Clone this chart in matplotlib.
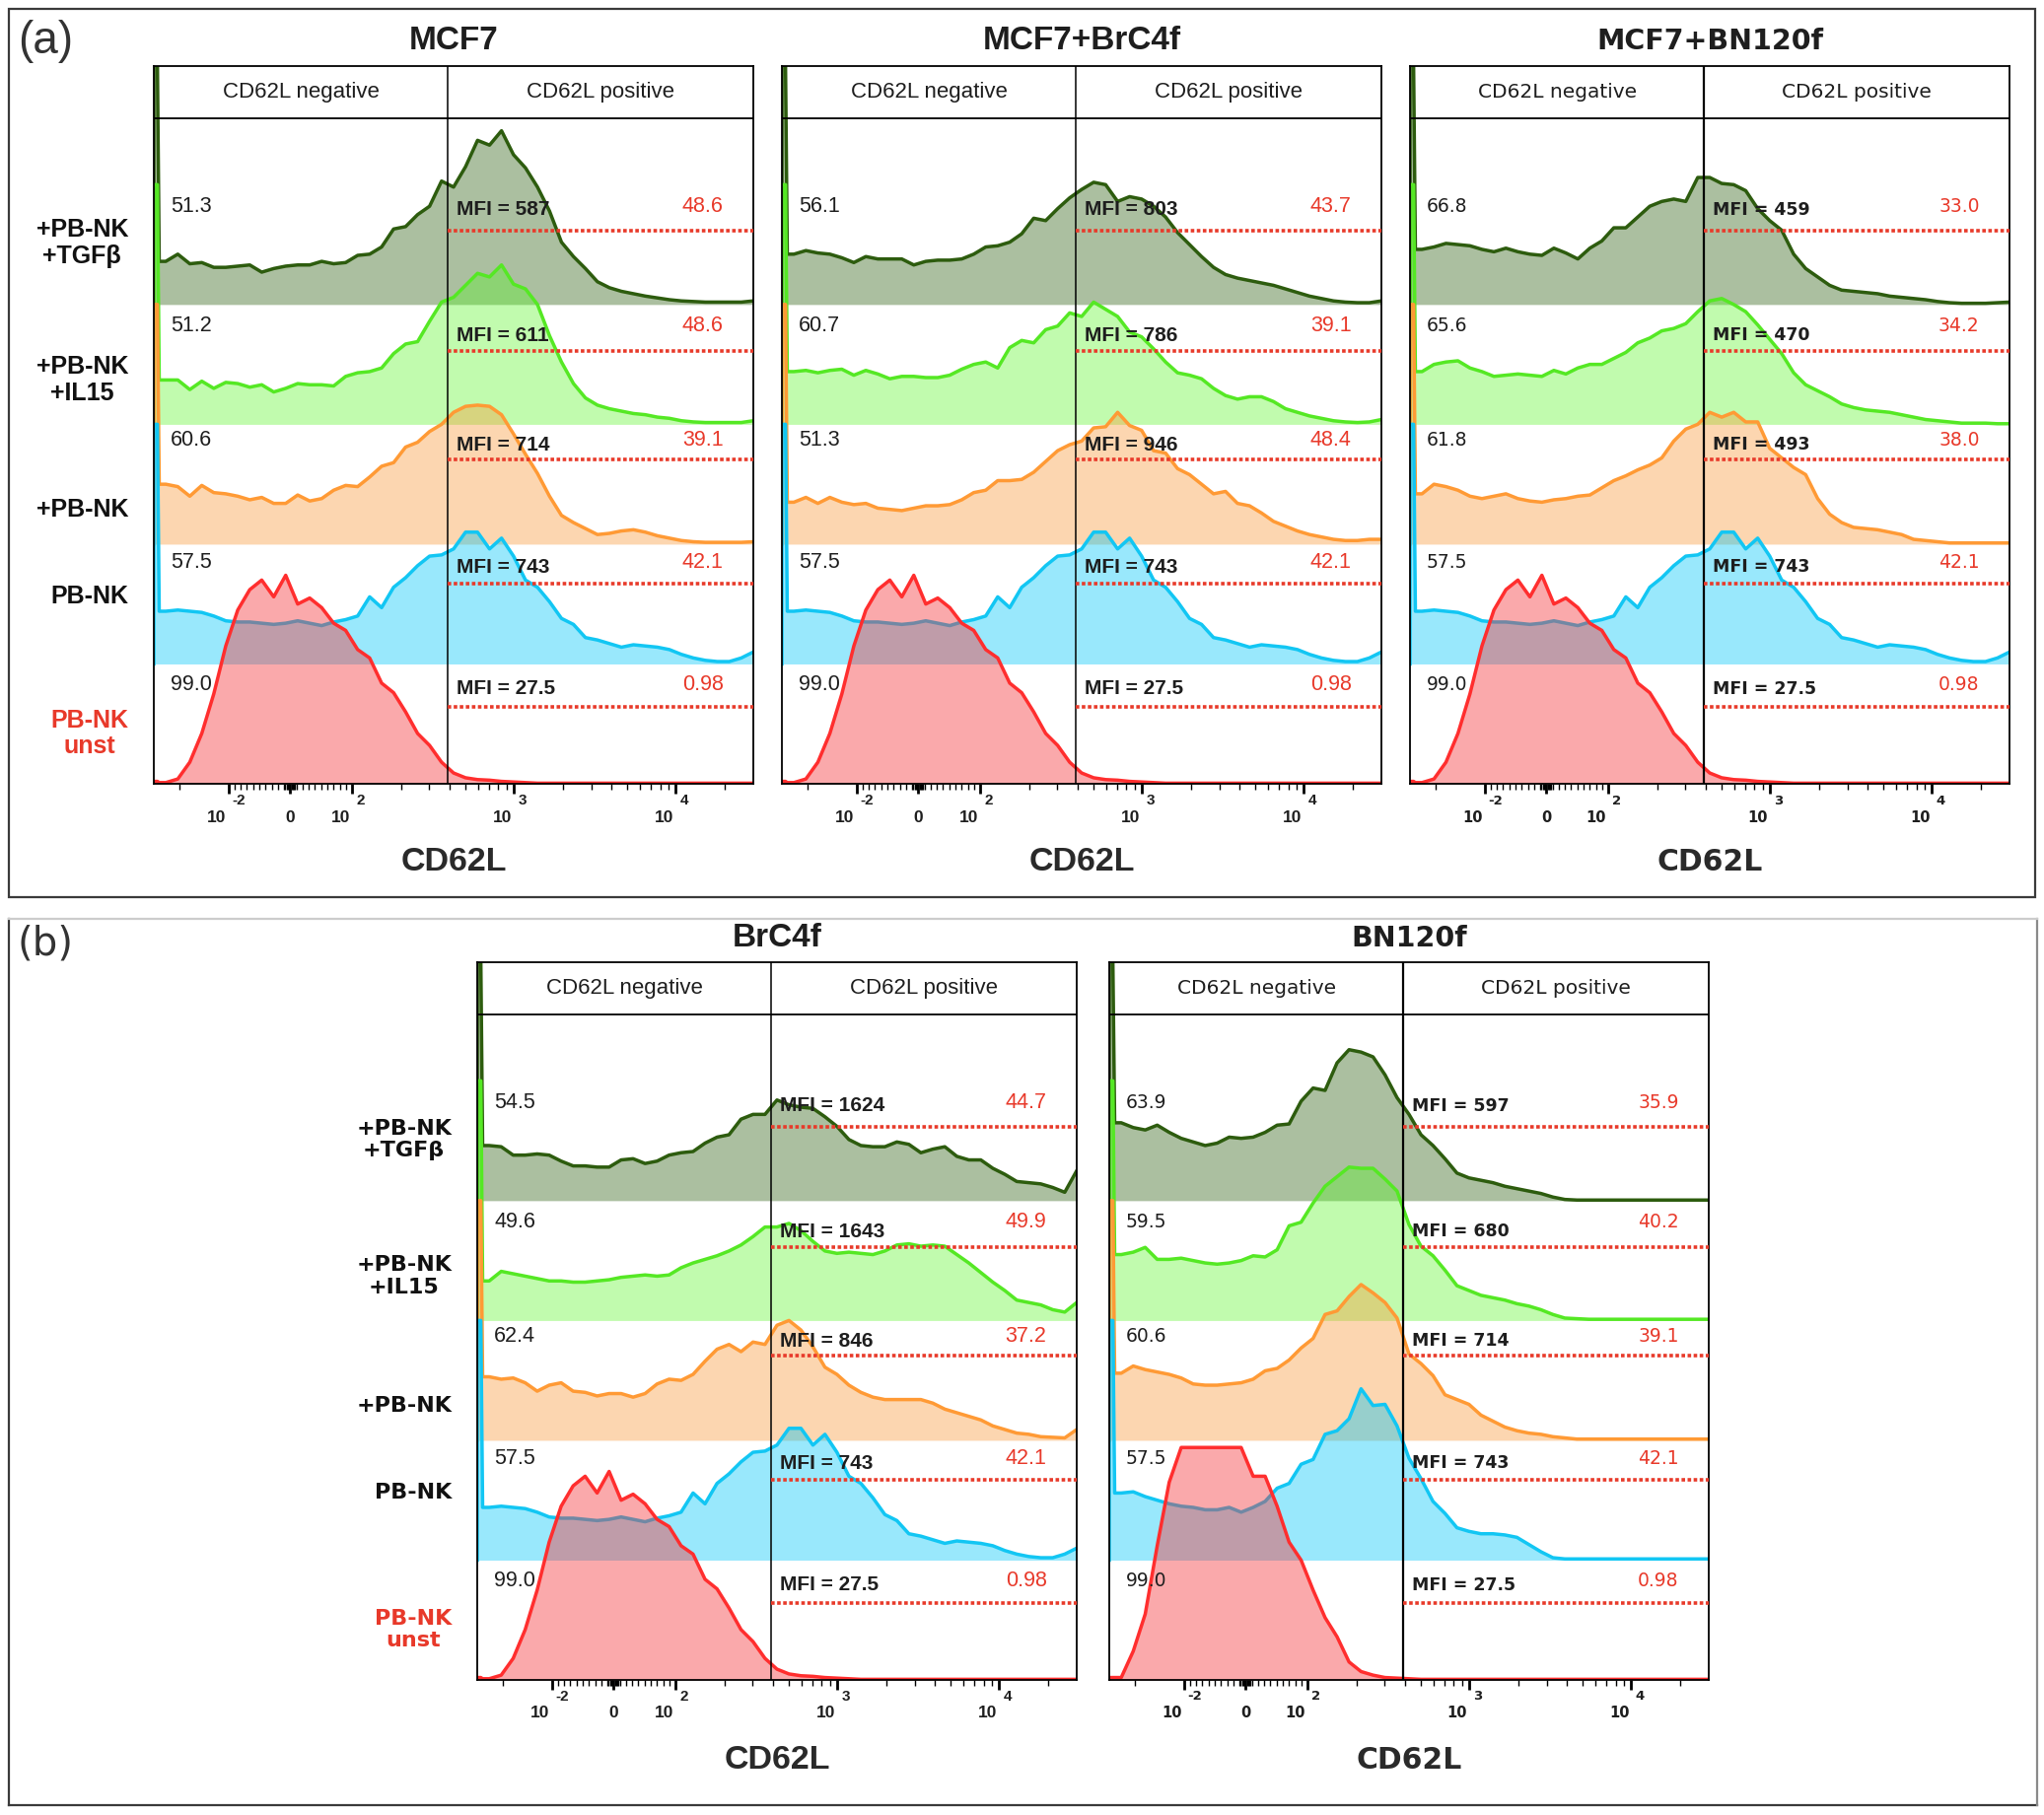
import numpy as np
import matplotlib
matplotlib.use("Agg")
import matplotlib.pyplot as plt
from matplotlib.transforms import blended_transform_factory, offset_copy
from matplotlib.patches import Rectangle
from matplotlib.lines import Line2D
from matplotlib.ticker import NullFormatter

# ---------------------------------------------------------------- data
# histogram heights (1 unit = spacing between stacked rows), sampled on a
# regular grid of 50 channels across the display axis (left to right)
ROW_LABELS = ["+PB-NK\n+TGFβ", "+PB-NK\n+IL15", "+PB-NK", "PB-NK", "PB-NK\nunst"]

MCF7_TGFB = [.36, .42, .34, .35, .31, .31, .32, .33, .27, .30,
             .32, .33, .33, .36, .34, .35, .41, .42, .48, .63,
             .65, .75, .82, 1.03, .98, 1.15, 1.37, 1.33, 1.45, 1.25,
             1.14, .98, .78, .52, .40, .30, .19, .14, .11, .09,
             .07, .055, .04, .03, .025, .02, .02, .02, .02, .03]
MCF7_IL15 = [.37, .37, .29, .36, .30, .35, .34, .31, .33, .27,
             .30, .34, .33, .33, .32, .40, .43, .44, .47, .59,
             .67, .69, .86, 1.02, 1.06, 1.16, 1.26, 1.23, 1.33, 1.17,
             1.13, 1.00, .74, .52, .34, .22, .16, .13, .11, .09,
             .08, .06, .05, .03, .02, .015, .015, .015, .015, .03]
MCF7_NK = [.50, .48, .40, .49, .43, .42, .40, .37, .39, .34,
           .34, .41, .36, .38, .45, .49, .48, .56, .65, .68,
           .81, .85, .94, 1.00, 1.10, 1.15, 1.16, 1.15, 1.08, .92,
           .75, .59, .40, .24, .18, .13, .08, .09, .11, .12,
           .10, .07, .05, .03, .02, .015, .015, .015, .015, .02]
PBNK = [.44, .45, .44, .43, .40, .36, .35, .35, .34, .33,
        .34, .36, .34, .32, .35, .37, .40, .56, .47, .64,
        .72, .82, .90, .91, .96, 1.10, 1.10, .96, 1.05, .90,
        .70, .64, .52, .38, .33, .22, .20, .17, .14, .16,
        .15, .14, .12, .08, .05, .03, .02, .02, .05, .10]
UNST = [.01, .04, .18, .42, .75, 1.15, 1.45, 1.62, 1.70, 1.56,
        1.74, 1.50, 1.55, 1.47, 1.34, 1.28, 1.12, 1.05, .84, .76,
        .60, .42, .32, .18, .09, .05, .035, .03, .02, .015,
        .01, .005, .005, .005, .005, .005, .005, .005, .005, .005,
        .005, .005, .005, .005, .005, .005, .005, .005, .005, .005]

MCF7_BRC_TGFB = [.42, .45, .43, .42, .39, .35, .40, .38, .38, .38,
                 .33, .36, .37, .37, .38, .42, .48, .49, .52, .59,
                 .72, .70, .80, .89, .96, 1.02, 1.00, .86, .90, .88,
                 .82, .73, .60, .50, .40, .31, .25, .22, .20, .18,
                 .16, .13, .10, .07, .05, .03, .02, .015, .015, .03]
MCF7_BRC_IL15 = [.44, .45, .43, .45, .46, .41, .45, .42, .38, .40,
                 .40, .39, .39, .41, .46, .50, .52, .47, .64, .70,
                 .68, .79, .82, .93, .90, 1.02, .96, .90, .77, .73,
                 .63, .52, .43, .41, .38, .30, .24, .21, .23, .23,
                 .19, .13, .10, .07, .05, .03, .02, .015, .02, .04]
MCF7_BRC_NK = [.35, .39, .34, .39, .35, .33, .34, .30, .29, .28,
               .30, .32, .32, .33, .37, .43, .45, .53, .53, .54,
               .60, .69, .78, .83, .86, .97, .98, 1.10, .99, .95,
               .78, .76, .63, .58, .50, .42, .44, .34, .32, .26,
               .19, .15, .11, .08, .06, .04, .03, .03, .04, .04]

MCF7_BN_TGFB = [.46, .48, .51, .50, .49, .46, .44, .47, .44, .42,
                .41, .47, .43, .38, .47, .53, .64, .64, .73, .82,
                .86, .88, .86, 1.06, 1.06, 1.01, 1.00, .95, .80, .70,
                .62, .42, .30, .23, .16, .12, .11, .10, .09, .07,
                .06, .05, .04, .025, .015, .01, .01, .01, .015, .02]
MCF7_BN_IL15 = [.44, .50, .52, .53, .47, .44, .40, .41, .42, .41,
                .40, .45, .42, .47, .50, .50, .55, .60, .68, .72,
                .78, .80, .84, .94, 1.03, 1.05, 1.00, .94, .83, .71,
                .59, .43, .33, .28, .23, .17, .14, .12, .11, .10,
                .08, .06, .04, .03, .02, .01, .01, .01, .005, .005]
MCF7_BN_NK = [.42, .50, .48, .45, .40, .38, .40, .42, .38, .36,
              .35, .37, .38, .40, .41, .47, .53, .57, .62, .66,
              .72, .86, .96, 1.00, 1.10, 1.06, 1.10, 1.02, 1.02, .80,
              .72, .64, .58, .38, .25, .18, .14, .13, .12, .10,
              .08, .04, .03, .02, .01, .01, .01, .01, .01, .01]

BRC_TGFB = [.46, .45, .38, .38, .39, .38, .33, .29, .29, .28,
            .28, .34, .35, .31, .33, .38, .40, .41, .48, .53,
            .55, .68, .72, .72, .84, .80, .78, .77, .70, .62,
            .51, .46, .45, .45, .49, .47, .40, .43, .45, .37,
            .34, .34, .27, .22, .16, .15, .14, .11, .07, .25]
BRC_IL15 = [.33, .41, .39, .37, .35, .33, .33, .32, .32, .33,
            .34, .36, .37, .38, .37, .38, .44, .48, .51, .54,
            .58, .63, .70, .78, .78, .81, .75, .66, .58, .56,
            .57, .56, .55, .58, .63, .64, .62, .63, .62, .55,
            .48, .40, .32, .25, .17, .15, .13, .09, .07, .15]
BRC_NK = [.53, .51, .52, .48, .41, .46, .48, .41, .40, .37,
          .39, .39, .36, .39, .47, .51, .50, .55, .66, .76,
          .80, .74, .82, .80, .96, 1.00, .92, .78, .61, .55,
          .46, .40, .36, .34, .34, .34, .34, .31, .26, .23,
          .20, .17, .12, .09, .06, .05, .03, .025, .02, .09]

BN_TGFB = [.65, .61, .59, .63, .57, .52, .49, .46, .48, .53,
           .52, .53, .57, .63, .64, .83, .94, .92, 1.15, 1.26,
           1.24, 1.20, 1.05, .86, .72, .55, .46, .35, .23, .19,
           .17, .15, .12, .10, .08, .06, .03, .01, .005, .005,
           .005, .005, .005, .005, .005, .005, .005, .005, .005, .005]
BN_IL15 = [.55, .57, .61, .51, .51, .52, .50, .48, .47, .48,
           .50, .54, .53, .59, .79, .82, .98, 1.12, 1.20, 1.28,
           1.27, 1.27, 1.18, 1.08, .80, .62, .54, .42, .29, .25,
           .21, .19, .17, .14, .12, .09, .05, .02, .015, .01,
           .01, .01, .01, .01, .01, .01, .01, .01, .01, .01]
BN_NK = [.56, .62, .59, .57, .55, .52, .47, .46, .46, .47,
         .48, .51, .58, .60, .67, .77, .85, 1.05, 1.08, 1.20,
         1.30, 1.23, 1.15, 1.02, .72, .64, .54, .38, .34, .30,
         .21, .16, .11, .08, .06, .05, .03, .02, .01, .01,
         .01, .01, .01, .01, .01, .01, .01, .01, .01, .01]
BN_PBNK = [.56, .57, .53, .50, .47, .45, .44, .42, .42, .44,
           .40, .44, .49, .60, .64, .80, .84, 1.05, 1.08, 1.18,
           1.43, 1.29, 1.30, 1.12, .85, .68, .49, .39, .27, .24,
           .22, .22, .21, .19, .13, .07, .02, .01, .01, .01,
           .01, .01, .01, .01, .01, .01, .01, .01, .01, .01]
BN_UNST = [.02, .24, .55, 1.12, 1.65, 1.94, 1.94, 1.94, 1.94, 1.94,
           1.94, 1.70, 1.70, 1.45, 1.15, 1.00, .75, .52, .36, .15,
           .07, .04, .02, .015, .01, .005, .005, .005, .005, .005,
           .005, .005, .005, .005, .005, .005, .005, .005, .005, .005,
           .005, .005, .005, .005, .005, .005, .005, .005, .005, .005]

# height of the pile-up in the first (off-scale) channel
SPIKE = [2.0, 2.0, 2.0, 2.0, 0.02]

# gate statistics (% negative, MFI, % positive)
MCF7_NEG = ["51.3", "51.2", "60.6", "57.5", "99.0"]
MCF7_MFI = ["587", "611", "714", "743", "27.5"]
MCF7_POS = ["48.6", "48.6", "39.1", "42.1", "0.98"]
MCF7_BRC_NEG = ["56.1", "60.7", "51.3", "57.5", "99.0"]
MCF7_BRC_MFI = ["803", "786", "946", "743", "27.5"]
MCF7_BRC_POS = ["43.7", "39.1", "48.4", "42.1", "0.98"]
MCF7_BN_NEG = ["66.8", "65.6", "61.8", "57.5", "99.0"]
MCF7_BN_MFI = ["459", "470", "493", "743", "27.5"]
MCF7_BN_POS = ["33.0", "34.2", "38.0", "42.1", "0.98"]
BRC_NEG = ["54.5", "49.6", "62.4", "57.5", "99.0"]
BRC_MFI = ["1624", "1643", "846", "743", "27.5"]
BRC_POS = ["44.7", "49.9", "37.2", "42.1", "0.98"]
BN_NEG = ["63.9", "59.5", "60.6", "57.5", "99.0"]
BN_MFI = ["597", "680", "714", "743", "27.5"]
BN_POS = ["35.9", "40.2", "39.1", "42.1", "0.98"]

MAJOR_TICKS = [-100, 0, 100, 1000, 10000]
MINOR_TICKS = ([-200] + list(range(-90, 0, 10)) + [-8, -6, -4, -2, 2, 4, 6, 8]
               + list(range(10, 100, 10)) + list(range(200, 1000, 100))
               + list(range(2000, 10000, 1000)) + [20000])
GATE = 390.0
XMIN, XMAX = -289.0, 30100.0
LINTHRESH, LINSCALE = 100.0, 0.344

# ---------------------------------------------------------------- style
W, H, DPI = 2073, 1841, 100
NARROW = "Liberation Sans"
WIDE = "DejaVu Sans"
TXT = "#1e1e1e"
RED_TXT = "#e8392a"
LINE_COLORS = ["#2d5c0e", "#55e824", "#ff9a35", "#12c6f3", "#ff2e2e"]
FILL_COLORS = ["#2f6012", "#5cf52a", "#f99a3a", "#00c6f8", "#f53338"]
FILL_ALPHA = [0.40, 0.38, 0.40, 0.40, 0.42]
ROW_BASE = [4, 3, 2, 1, 0]
NUM_DY = [0.82, 0.82, 0.87, 0.85, 0.83]
MFI_DY = [0.79, 0.74, 0.83, 0.81, 0.79]
DOT_DY = [0.62, 0.61, 0.71, 0.67, 0.64]
ROW_LABEL_Y = [4.51, 3.37, 2.29, 1.56, 0.42]
Y_TOP, HEADER_Y = 5.99, 5.55

SIZES = {
    NARROW: dict(title=24, header=16, num=15.5, mfi=15, xlabel=24.5, tick=12.5, exp=11),
    WIDE: dict(title=20.5, header=14.5, num=13.5, mfi=12.5, xlabel=21.5, tick=10.5, exp=9.5),
}

fig = plt.figure(figsize=(W / DPI, H / DPI), dpi=DPI)
fig.patch.set_facecolor("white")


def px_rect(x0, y0, w, h):
    return [x0 / W, 1 - (y0 + h) / H, w / W, h / H]


GRID_F = np.arange(1, 51) * 0.02


def make_panel(left_px, top_px, title, curves, neg, mfi, pos, fam, title_y, xlabel_y):
    sz = SIZES[fam]
    ax = fig.add_axes(px_rect(left_px, top_px, 608, 728))
    ax.set_xscale("symlog", linthresh=LINTHRESH, linscale=LINSCALE)
    ax.set_xlim(XMIN, XMAX)
    ax.set_ylim(0, Y_TOP)
    tr = ax.xaxis.get_transform()
    t0, t1 = tr.transform(np.array([XMIN, XMAX], float))

    def fx(f):
        return tr.inverted().transform(t0 + np.asarray(f, float) * (t1 - t0))

    gate_f = (tr.transform(np.array([GATE]))[0] - t0) / (t1 - t0)

    for i in range(5):
        base = ROW_BASE[i]
        v = np.asarray(curves[i], float)
        f = np.r_[0.0, 0.0, 0.006, 0.009, GRID_F]
        y = np.r_[0.0, SPIKE[i], SPIKE[i], v[0], v]
        xs = fx(f)
        z = 2 + 2 * i
        ax.fill_between(xs, base, base + y, color=FILL_COLORS[i],
                        alpha=FILL_ALPHA[i], lw=0, zorder=z)
        ax.plot(xs, base + y, color=LINE_COLORS[i], lw=2.5, zorder=z + 1,
                solid_joinstyle="round")

    wide = fam == WIDE
    ax.axvline(GATE, color="k", lw=1.6 if wide else 1.1, zorder=20)
    ax.axhline(HEADER_Y, color="k", lw=1.3, zorder=20)
    hy = (HEADER_Y + Y_TOP) / 2
    bt = blended_transform_factory(ax.transAxes, ax.transData)
    ax.text(gate_f / 2, hy, "CD62L negative", transform=bt, ha="center", va="center",
            fontsize=sz["header"], family=fam, color=TXT, zorder=30)
    ax.text((gate_f + 1) / 2, hy, "CD62L positive", transform=bt, ha="center", va="center",
            fontsize=sz["header"], family=fam, color=TXT, zorder=30)

    for i in range(5):
        base = ROW_BASE[i]
        ax.text(0.028, base + NUM_DY[i], neg[i], transform=bt, ha="left", va="center",
                fontsize=sz["num"], family=fam, color=TXT, zorder=30)
        ax.text(gate_f + 0.015, base + MFI_DY[i], "MFI = " + mfi[i], transform=bt,
                ha="left", va="center", fontsize=sz["mfi"], family=fam,
                fontweight="bold", color=TXT, zorder=30)
        ax.text(0.95, base + NUM_DY[i], pos[i], transform=bt, ha="right", va="center",
                fontsize=sz["num"], family=fam, color=RED_TXT, zorder=30)
        ax.plot([GATE, XMAX], [base + DOT_DY[i]] * 2, ls=(0, (1, 0.7)), lw=2.6,
                color="#e83a2a", zorder=25)

    # axes / ticks
    for s in ax.spines.values():
        s.set_linewidth(1.3)
        s.set_color("black")
        s.set_zorder(21)
    ax.set_yticks([])
    ax.set_xticks(MAJOR_TICKS)
    ax.set_xticklabels([""] * len(MAJOR_TICKS))
    ax.set_xticks(MINOR_TICKS, minor=True)
    ax.xaxis.set_minor_formatter(NullFormatter())
    ax.tick_params(axis="x", which="major", direction="out", length=7, width=2.0)
    ax.tick_params(axis="x", which="minor", direction="out", length=4, width=1.0)

    bx = blended_transform_factory(ax.transData, ax.transAxes)
    for v in MAJOR_TICKS:
        if v == 0:
            ax.text(0, 0, "0", transform=offset_copy(bx, fig=fig, x=0, y=-34, units="dots"),
                    ha="center", va="center", fontsize=sz["tick"], family=fam,
                    fontweight="bold", color=TXT)
            continue
        e = int(round(np.log10(abs(v))))
        exp = ("-" if v < 0 else "") + str(e)
        ax.text(v, 0, "10", transform=offset_copy(bx, fig=fig, x=-2, y=-34, units="dots"),
                ha="right", va="center", fontsize=sz["tick"], family=fam,
                fontweight="bold", color=TXT)
        ax.text(v, 0, exp, transform=offset_copy(bx, fig=fig, x=4, y=-17, units="dots"),
                ha="left", va="center", fontsize=sz["exp"], family=fam,
                fontweight="bold", color=TXT)

    cx = (left_px + 304) / W
    fig.text(cx, 1 - title_y / H, title, ha="center", va="center",
             fontsize=sz["title"], family=fam, fontweight="bold", color=TXT)
    fig.text(cx, 1 - xlabel_y / H, "CD62L", ha="center", va="center",
             fontsize=sz["xlabel"], family=fam, fontweight="bold", color="#2a2a2a")
    return ax


ax_a1 = make_panel(156, 67, "MCF7", [MCF7_TGFB, MCF7_IL15, MCF7_NK, PBNK, UNST],
                   MCF7_NEG, MCF7_MFI, MCF7_POS, NARROW, 42, 875)
make_panel(793, 67, "MCF7+BrC4f", [MCF7_BRC_TGFB, MCF7_BRC_IL15, MCF7_BRC_NK, PBNK, UNST],
           MCF7_BRC_NEG, MCF7_BRC_MFI, MCF7_BRC_POS, NARROW, 42, 875)
make_panel(1430, 67, "MCF7+BN120f", [MCF7_BN_TGFB, MCF7_BN_IL15, MCF7_BN_NK, PBNK, UNST],
           MCF7_BN_NEG, MCF7_BN_MFI, MCF7_BN_POS, WIDE, 42, 875)
ax_b1 = make_panel(484, 976, "BrC4f", [BRC_TGFB, BRC_IL15, BRC_NK, PBNK, UNST],
                   BRC_NEG, BRC_MFI, BRC_POS, NARROW, 952, 1786)
make_panel(1125, 976, "BN120f", [BN_TGFB, BN_IL15, BN_NK, BN_PBNK, BN_UNST],
           BN_NEG, BN_MFI, BN_POS, WIDE, 952, 1786)

# row labels
for ax, xr, fam, fs in [(ax_a1, 130, NARROW, 18), (ax_b1, 458, WIDE, 16)]:
    bt = blended_transform_factory(fig.transFigure, ax.transData)
    for i, lab in enumerate(ROW_LABELS):
        fig.text(xr / W, ROW_LABEL_Y[i], lab, transform=bt, ha="right", va="center",
                 multialignment="center", fontsize=fs, family=fam, fontweight="bold",
                 color=RED_TXT if i == 4 else "#111111", linespacing=1.15)

# panel frames and letters
fig.add_artist(Rectangle((9 / W, 1 - 910 / H), (2064 - 9) / W, (910 - 9) / H,
                         transform=fig.transFigure, fill=False, ec="#3a3a3a", lw=1.6))
for (xa, ya, xb, yb, c) in [(9, 932, 9, 1831, "#3a3a3a"), (9, 1831, 2066, 1831, "#3a3a3a"),
                            (2066, 932, 2066, 1831, "#8a8a8a"), (9, 932, 2066, 932, "#cccccc")]:
    fig.add_artist(Line2D([xa / W, xb / W], [1 - ya / H, 1 - yb / H],
                          transform=fig.transFigure, color=c, lw=1.6))
fig.text(46 / W, 1 - 42 / H, "(a)", ha="center", va="center", fontsize=33,
         family=NARROW, color="#333333")
fig.text(46 / W, 1 - 958 / H, "(b)", ha="center", va="center", fontsize=29,
         family=WIDE, color="#333333")

fig.savefig("out.png", dpi=DPI, facecolor="white")
